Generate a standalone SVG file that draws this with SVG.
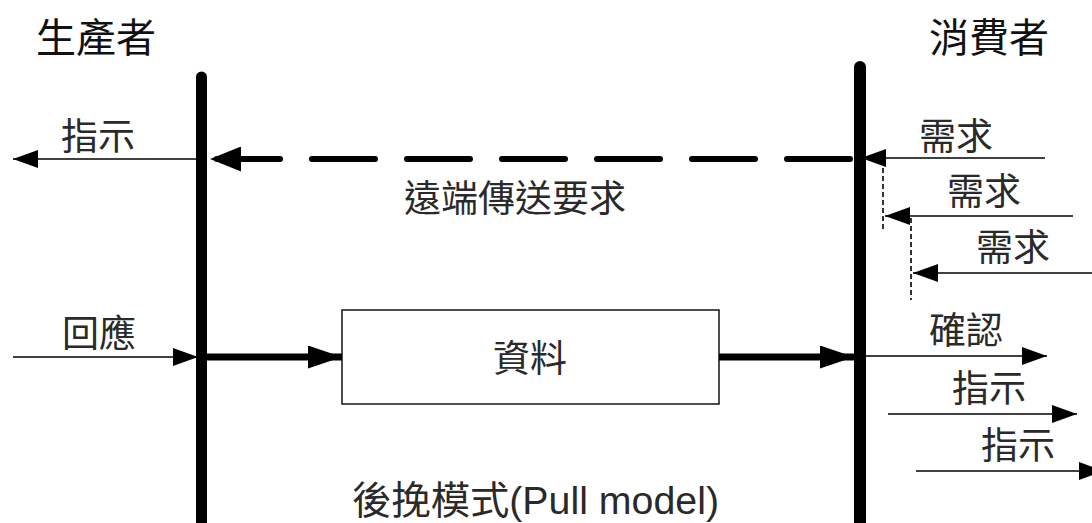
<svg xmlns="http://www.w3.org/2000/svg" width="1092" height="523" viewBox="0 0 1092 523">
<style>
  text { font-family: "Liberation Sans", "Noto Sans CJK TC", sans-serif; fill: #2a2a2a; }
  .hdr { font-size: 40px; fill: #111; }
  .lbl { font-size: 37px; }
  .bar { stroke: #000; stroke-width: 11; stroke-linecap: round; fill: none; }
  .thin { stroke: #000; stroke-width: 1.6; fill: none; }
  .thick { stroke: #000; stroke-width: 7; fill: none; }
  .dash { stroke: #000; stroke-width: 6; stroke-dasharray: 63 32; stroke-linecap: round; fill: none; }
  .vdash { stroke: #000; stroke-width: 1.6; stroke-dasharray: 5 3; fill: none; }
  .box { fill: #fff; stroke: #222; stroke-width: 1.6; }
</style>
<defs>
  <marker id="ahThin" markerUnits="userSpaceOnUse" viewBox="0 0 25 18" markerWidth="25" markerHeight="18" refX="25" refY="9" orient="auto">
    <polygon points="0,0 25,9 0,18" fill="#000"/>
  </marker>
  <marker id="ahThick" markerUnits="userSpaceOnUse" viewBox="0 0 34 23" markerWidth="34" markerHeight="23" refX="34" refY="11.5" orient="auto">
    <polygon points="0,0 34,11.5 0,23" fill="#000"/>
  </marker>
  <marker id="ahDash" markerUnits="userSpaceOnUse" viewBox="0 0 31 25" markerWidth="31" markerHeight="25" refX="31" refY="12.5" orient="auto">
    <polygon points="0,0 31,12.5 0,25" fill="#000"/>
  </marker>
</defs>
<rect width="1092" height="523" fill="#fff"/>

<g id="producer">
  <text class="hdr" x="36" y="52">生產者</text>
  <line class="bar" x1="201.5" y1="77" x2="201.5" y2="540"/>
</g>
<g id="consumer">
  <text class="hdr" x="929" y="52">消費者</text>
  <line class="bar" x1="860" y1="67" x2="860" y2="540" style="stroke-width:12"/>
</g>
<g id="data">
  <rect class="box" x="342" y="310" width="377" height="94"/>
  <text class="lbl" x="530" y="372" text-anchor="middle">資料</text>
</g>

<g id="connectors">
  <line class="dash" x1="853" y1="159" x2="210" y2="159" stroke-dashoffset="-3" marker-end="url(#ahDash)"/>
  <line class="thin" x1="201" y1="159" x2="13" y2="159" marker-end="url(#ahThin)"/>
  <line class="thin" x1="1045" y1="158" x2="861" y2="158" marker-end="url(#ahThin)"/>
  <line class="vdash" x1="883" y1="160" x2="883" y2="232"/>
  <line class="thin" x1="1073" y1="216" x2="885" y2="216" marker-end="url(#ahThin)"/>
  <line class="vdash" x1="911" y1="218" x2="911" y2="300"/>
  <line class="thin" x1="1092" y1="273" x2="913" y2="273" marker-end="url(#ahThin)"/>
  <line class="thin" x1="13" y1="357" x2="198" y2="357" marker-end="url(#ahThin)"/>
  <line class="thick" x1="207" y1="357" x2="342" y2="357" marker-end="url(#ahThick)"/>
  <line class="thick" x1="719" y1="357" x2="854" y2="357" marker-end="url(#ahThick)"/>
  <line class="thin" x1="866" y1="356" x2="1047" y2="356" marker-end="url(#ahThin)"/>
  <line class="thin" x1="888" y1="414" x2="1077" y2="414" marker-end="url(#ahThin)"/>
  <line class="thin" x1="916" y1="471" x2="1104" y2="471" marker-end="url(#ahThin)"/>
</g>

<g id="labels">
  <text class="lbl" x="61" y="150">指示</text>
  <text class="lbl" x="919" y="150">需求</text>
  <text class="lbl" x="947" y="205">需求</text>
  <text class="lbl" x="976" y="261">需求</text>
  <text class="lbl" x="404" y="212">遠端傳送要求</text>
  <text class="lbl" x="62" y="347">回應</text>
  <text class="lbl" x="929" y="344">確認</text>
  <text class="lbl" x="952" y="402">指示</text>
  <text class="lbl" x="981" y="459">指示</text>
  <text class="lbl" x="352" y="514" style="font-size:39px" textLength="367" lengthAdjust="spacingAndGlyphs">後挽模式(Pull model)</text>
</g>
</svg>
